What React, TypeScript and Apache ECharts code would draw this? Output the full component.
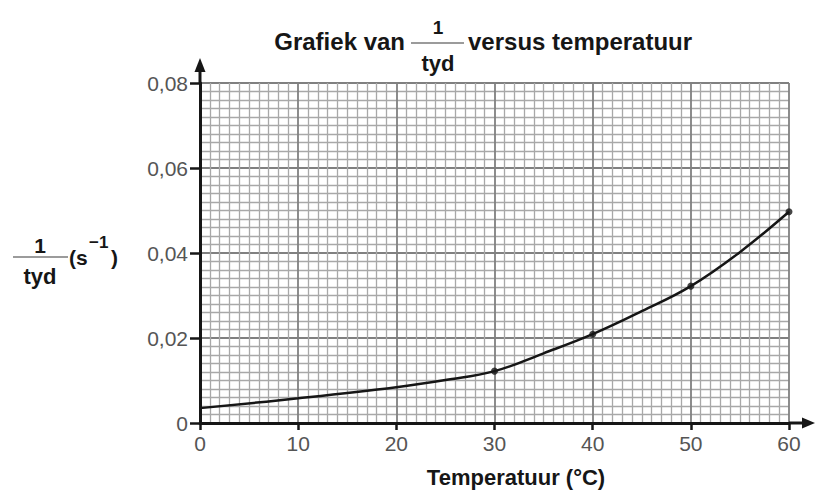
import React, { useEffect, useRef } from "react";
import * as echarts from "echarts";

const curveTemps = [0, 10, 20, 25, 30, 35, 40, 45, 50, 55, 60];
const curveValues = [0.0035, 0.0058, 0.0084, 0.0101, 0.0122, 0.0164, 0.0209, 0.0263, 0.0322, 0.0402, 0.0497];
const pointTemps = [30, 40, 50, 60];
const pointValues = [0.0122, 0.0209, 0.0322, 0.0497];
const yTickLabels = ["0", "0,02", "0,04", "0,06", "0,08"];
const xTickLabels = ["0", "10", "20", "30", "40", "50", "60"];

const FONT = "'Liberation Sans', Arial, Helvetica, sans-serif";
const INK = "#161616";

export default function App() {
  const ref = useRef<HTMLDivElement>(null);
  useEffect(() => {
    const chart = echarts.init(ref.current!, null, { renderer: "svg" });
    const option: any = {
      animation: false,
      backgroundColor: "#ffffff",
      grid: { left: 200, right: 27, top: 83, bottom: 67, containLabel: false },
      xAxis: {
        type: "value",
        min: 0,
        max: 60,
        interval: 10,
        axisLine: { show: true, onZero: false, lineStyle: { color: INK, width: 3 } },
        axisTick: { show: true, length: 7, lineStyle: { color: INK, width: 2.5 } },
        axisLabel: {
          margin: 10,
          fontFamily: FONT,
          fontSize: 21,
          color: "#555555",
          formatter: (v: number) => xTickLabels[Math.round(v / 10)] ?? "",
        },
        splitLine: { show: true, lineStyle: { color: "#808080", width: 1.8 } },
        minorTick: { show: false, splitNumber: 10 },
        minorSplitLine: { show: true, lineStyle: { color: "#a8a8a8", width: 1.3 } },
      },
      yAxis: {
        type: "value",
        min: 0,
        max: 0.08,
        interval: 0.02,
        axisLine: { show: true, onZero: false, lineStyle: { color: INK, width: 3 } },
        axisTick: { show: true, length: 10, lineStyle: { color: INK, width: 2.5 } },
        axisLabel: {
          margin: 12,
          fontFamily: FONT,
          fontSize: 21,
          color: "#555555",
          formatter: (v: number) => yTickLabels[Math.round(v / 0.02)] ?? "",
        },
        splitLine: { show: true, lineStyle: { color: "#808080", width: 1.8 } },
        minorTick: { show: false, splitNumber: 10 },
        minorSplitLine: { show: true, lineStyle: { color: "#a8a8a8", width: 1.3 } },
      },
      series: [
        {
          type: "line",
          data: curveTemps.map((t, i) => [t, curveValues[i]]),
          smooth: 0.4,
          showSymbol: false,
          lineStyle: { color: INK, width: 2.5 },
          z: 3,
        },
        {
          type: "scatter",
          data: pointTemps.map((t, i) => [t, pointValues[i]]),
          symbolSize: 7,
          itemStyle: { color: INK },
          z: 4,
        },
      ],
    };
    chart.setOption(option);

    const top = chart.convertToPixel({ gridIndex: 0 }, [0, 0.08]) as number[];
    const right = chart.convertToPixel({ gridIndex: 0 }, [60, 0]) as number[];
    const origin = chart.convertToPixel({ gridIndex: 0 }, [0, 0]) as number[];
    const ax = origin[0];
    const ay = origin[1];

    const bold = (text: string, x: number, y: number, size: number, align = "center") => ({
      type: "text",
      x,
      y,
      style: {
        text,
        fontFamily: FONT,
        fontWeight: "bold",
        fontSize: size,
        fill: INK,
        align,
        verticalAlign: "middle",
      },
    });

    chart.setOption({
      graphic: [
        // y-axis arrow
        {
          type: "line",
          shape: { x1: ax, y1: top[1], x2: ax, y2: 66 },
          style: { stroke: INK, lineWidth: 3 },
        },
        {
          type: "polygon",
          shape: { points: [[ax - 5.5, 72], [ax + 5.5, 72], [ax, 58]] },
          style: { fill: INK },
        },
        // x-axis arrow
        {
          type: "line",
          shape: { x1: right[0], y1: ay, x2: 806, y2: ay },
          style: { stroke: INK, lineWidth: 3 },
        },
        {
          type: "polygon",
          shape: { points: [[802, ay - 5.5], [802, ay + 5.5], [815, ay]] },
          style: { fill: INK },
        },
        // title
        bold("Grafiek van", 405, 41, 24, "right"),
        {
          type: "line",
          shape: { x1: 411, y1: 43, x2: 464, y2: 43 },
          style: { stroke: "#7a7a7a", lineWidth: 1.6 },
        },
        bold("1", 438, 27, 19),
        bold("tyd", 438, 63, 22),
        bold("versus temperatuur", 468, 41, 24, "left"),
        // y axis title
        bold("1", 40, 245, 21),
        {
          type: "line",
          shape: { x1: 13, y1: 257, x2: 68, y2: 257 },
          style: { stroke: "#7a7a7a", lineWidth: 1.6 },
        },
        bold("tyd", 40, 276, 22),
        bold("(s", 69, 257, 21, "left"),
        bold("\u22121", 89, 242, 17, "left"),
        bold(")", 111, 257, 21, "left"),
        // x axis title
        bold("Temperatuur (\u00b0C)", 516, 477, 22),
      ],
    });

    return () => chart.dispose();
  }, []);
  return (
    <div
      ref={ref}
      style={{ position: "fixed", left: 0, top: 0, width: 816, height: 490 }}
    />
  );
}
